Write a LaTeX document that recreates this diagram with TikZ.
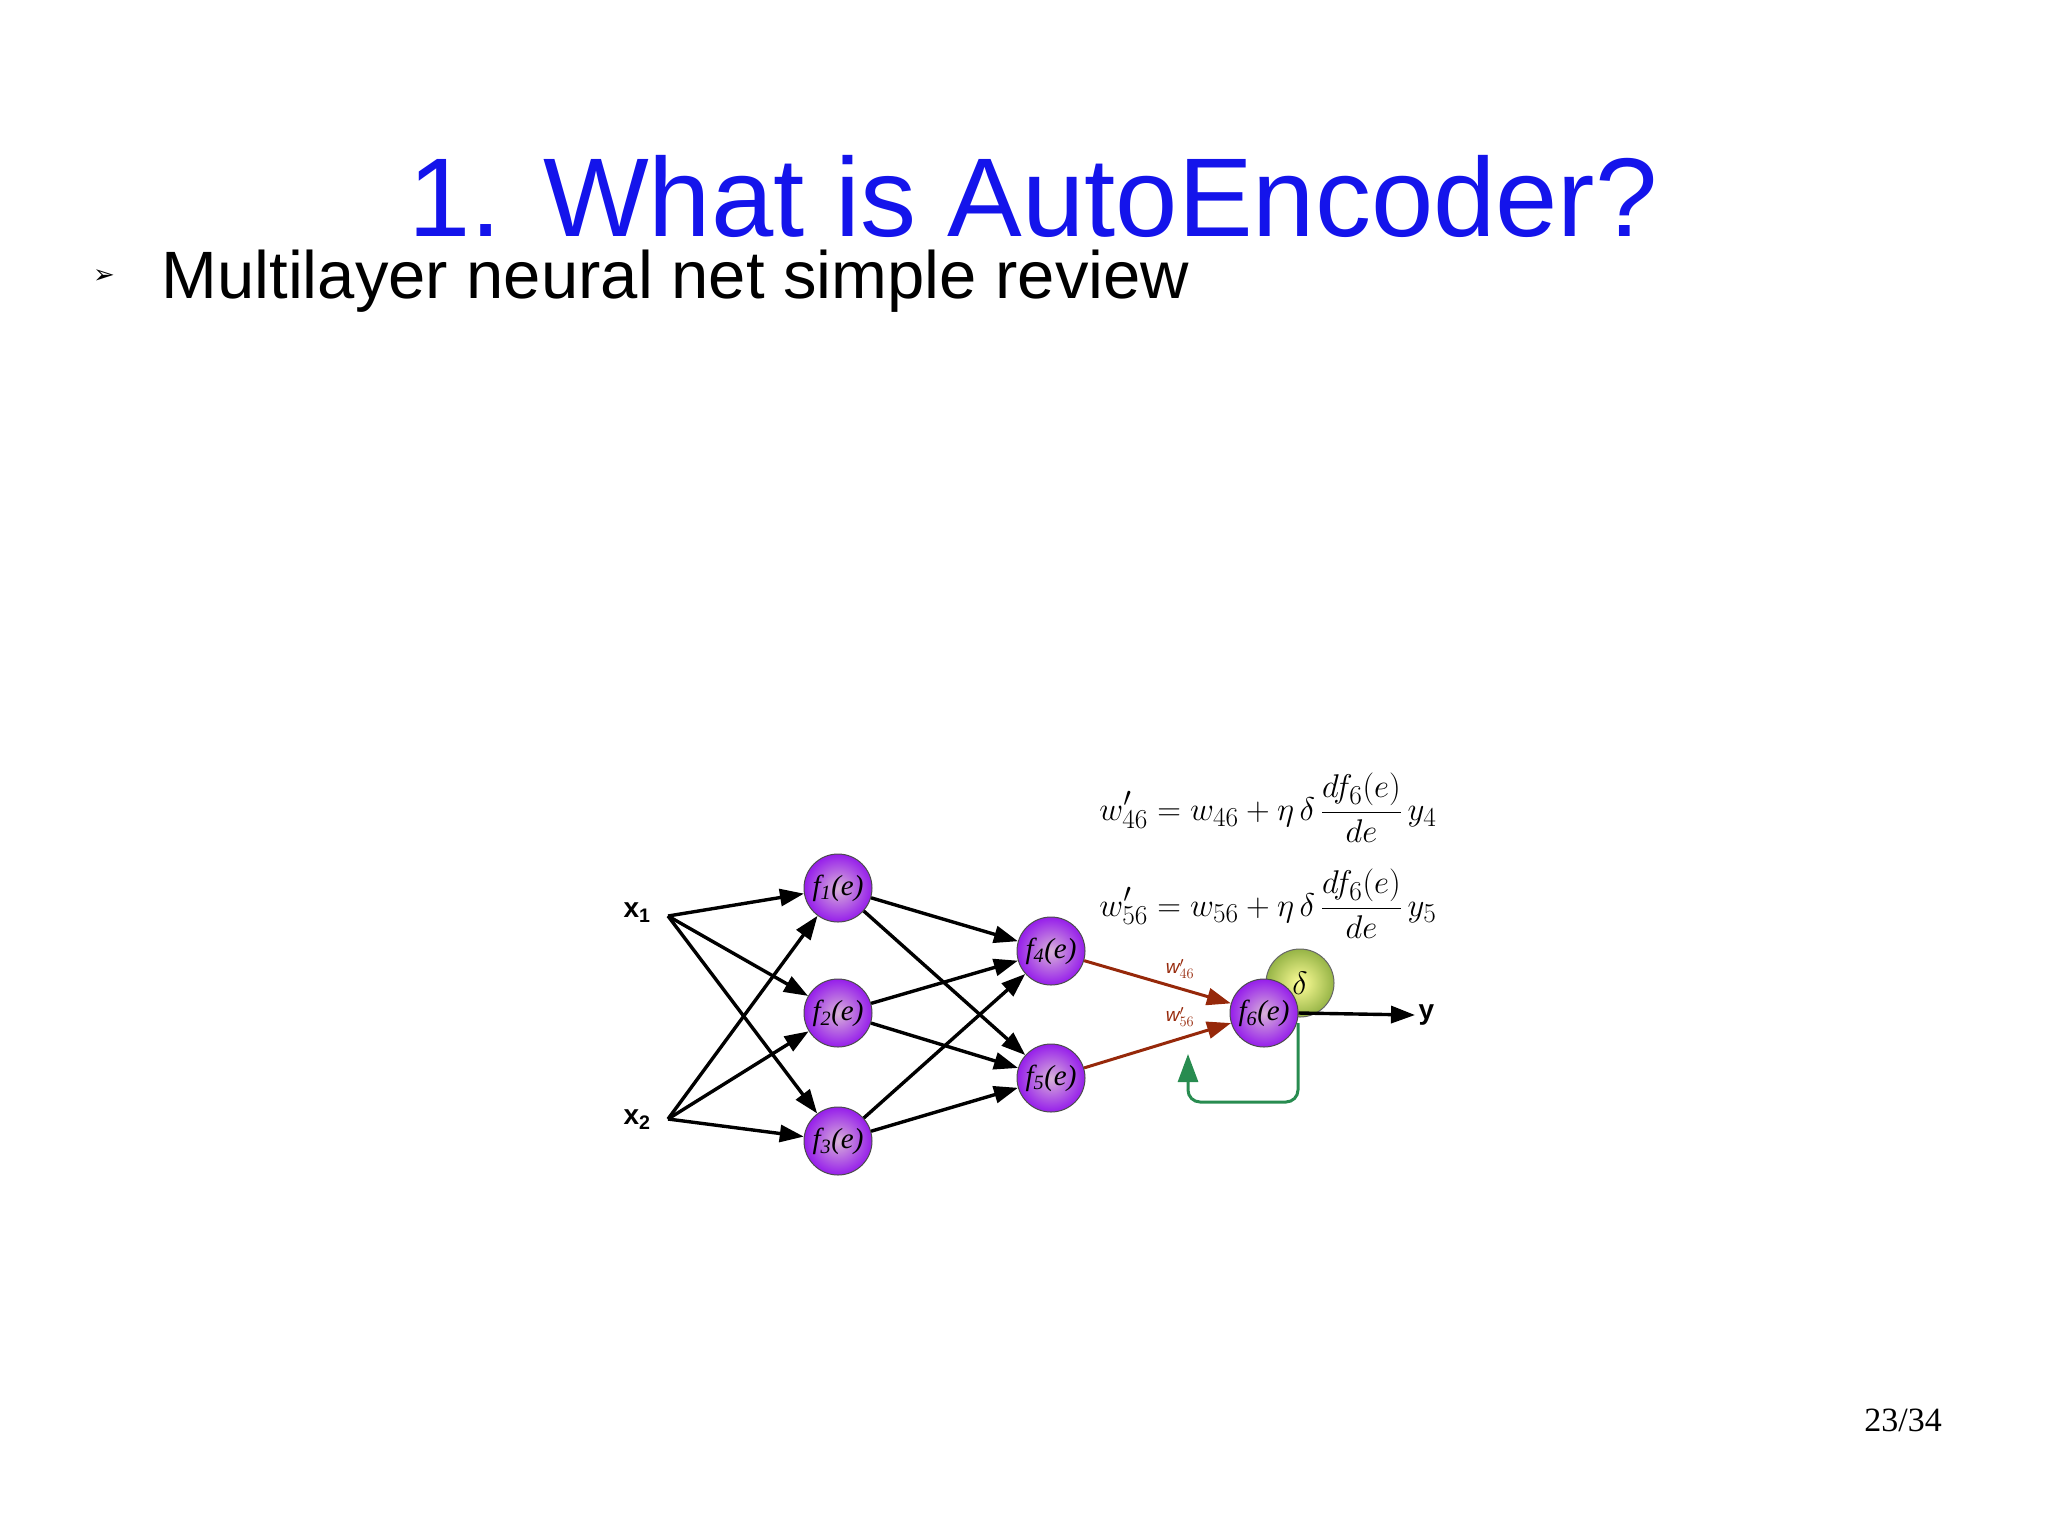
\documentclass[tikz,border=0pt]{standalone}
\usepackage{fontspec}
\setmainfont{Liberation Sans}
\newfontfamily\serifl{Liberation Serif}
\newfontfamily\dejavu{DejaVu Sans}
\usetikzlibrary{arrows.meta}
\definecolor{titleblue}{RGB}{20,20,235}
\definecolor{wred}{RGB}{150,40,10}
\definecolor{fgreen}{RGB}{40,140,80}
\newcommand{\fe}[1]{f\textsubscript{#1}(e)}
\begin{document}
\begin{tikzpicture}[x=1pt,y=-1pt,
 neuron/.style={circle,draw=black!70,line width=1pt,minimum size=68pt,inner sep=0pt,inner color=violet!30!white,outer color={rgb,255:red,150;green,30;blue,235},font=\fontsize{29}{30}\selectfont\itshape\serifl},
 arr/.style={line width=3.4pt,-{Triangle[length=24pt,width=17pt]}},
 warr/.style={arr,draw=wred,line width=3pt},
 lab/.style={font=\fontsize{28}{30}\selectfont\bfseries}]
\useasboundingbox (0,0) rectangle (2048,1535);
\node[text=titleblue,font=\fontsize{112}{120}\selectfont] (title) at (1033,196) {1. What is AutoEncoder?};
\node[font=\fontsize{26}{30}\selectfont\dejavu] (bul) at (104,277) {➢};
\node[anchor=base west,font=\fontsize{67}{72}\selectfont] (sub) at (158,298) {Multilayer neural net simple review};
\node[font=\fontsize{34}{36}\selectfont\serifl] (pg) at (1903,1420) {23/34};

\node[circle,minimum size=68pt,inner color=yellow!40!white,outer color={rgb,255:red,150;green,180;blue,70},draw=black!60,line width=1pt,font=\fontsize{30}{30}\selectfont] (d) at (1300,983) {\scalebox{1.3}{$\delta$}};
\node[neuron] (f1) at (838,888) {\fe{1}};
\node[neuron] (f2) at (838,1013) {\fe{2}};
\node[neuron] (f3) at (838,1141) {\fe{3}};
\node[neuron] (f4) at (1051,951) {\fe{4}};
\node[neuron] (f5) at (1051,1078) {\fe{5}};
\node[neuron] (f6) at (1264,1013) {\fe{6}};

\node[lab] (x1) at (637,913) {x\textsubscript{1}};
\node[lab] (x2) at (637,1120) {x\textsubscript{2}};
\coordinate (s1) at (668,916);
\coordinate (s2) at (668,1119);
\node[lab,anchor=west] (y) at (1415,1015) {y};

\foreach \s in {s1,s2}\foreach \t in {f1,f2,f3} \draw[arr] (\s) -- (\t);
\foreach \s in {f1,f2,f3}\foreach \t in {f4,f5} \draw[arr] (\s) -- (\t);
\draw[warr] (f4) -- (f6);
\draw[warr] (f5) -- (f6);
\draw[arr] (f6.east) -- (y.west);
\coordinate (g2) at (1188,1102);
\coordinate (g3) at (1188,1054);
\coordinate (g0) at (1298,1023);
\draw[fgreen,line width=3pt,rounded corners=12pt,-{Triangle[length=28pt,width=20pt]}] (g0) |- (g2) -- (g3);

\node[text=wred,font=\fontsize{19}{20}\selectfont\itshape] (w46) at (1180,969) {w$'_{46}$};
\node[text=wred,font=\fontsize{19}{20}\selectfont\itshape] (w56) at (1180,1017) {w$'_{56}$};

\node (e1) at (1268,808) {\scalebox{1.32}{\fontsize{28}{30}\selectfont$\displaystyle w'_{46} = w_{46} + \eta\,\delta\,\frac{df_6(e)}{de}\,y_4$}};
\node (e2) at (1268,904) {\scalebox{1.32}{\fontsize{28}{30}\selectfont$\displaystyle w'_{56} = w_{56} + \eta\,\delta\,\frac{df_6(e)}{de}\,y_5$}};
\end{tikzpicture}
\end{document}
